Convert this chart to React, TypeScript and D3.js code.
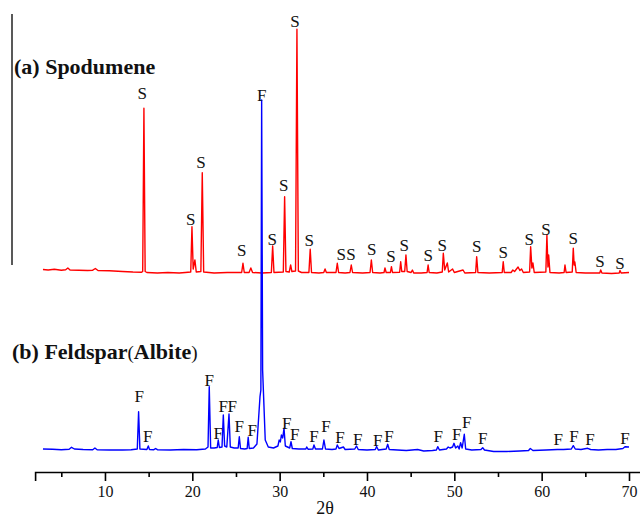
import React, { useEffect, useRef } from 'react';
import * as d3 from 'd3';

// XRD patterns, [2θ, counts] (arbitrary units)
const spodumene: [number, number][] = [
  [2.9, 35], [3.5, 30], [4.2, 38], [5.0, 28], [5.5, 32], [5.75, 50], [6.0, 30], [7.0, 28], [8.0, 25],
  [8.6, 28], [8.9, 45], [9.2, 25], [10.5, 22], [12.0, 15], [13.2, 10], [14.2, 8], [14.32, 15],
  [14.46, 1647], [14.6, 15], [14.8, 5], [16.0, 0], [17.2, 5], [18.5, 0], [19.2, 5], [19.82, 10],
  [19.96, 463], [20.1, 40], [20.3, 130], [20.45, 10], [20.98, 15], [21.14, 1003], [21.3, 10],
  [22.5, 0], [24.0, 5], [25.65, 5], [25.8, 97], [25.95, 5], [26.5, 5], [26.7, 50], [26.9, 5],
  [28.0, 0], [29.05, 5], [29.2, 270], [29.35, 5], [30.42, 10], [30.57, 763], [30.72, 15],
  [31.1, 10], [31.26, 80], [31.4, 15], [31.82, 20], [31.98, 2437], [32.14, 20], [32.5, 5],
  [33.35, 5], [33.5, 237], [33.65, 5], [34.5, 0], [35.05, 5], [35.2, 40], [35.35, 5], [36.45, 5],
  [36.6, 97], [36.75, 5], [37.5, 0], [38.05, 5], [38.2, 80], [38.35, 5], [39.5, 0], [40.35, 5],
  [40.5, 130], [40.65, 5], [41.5, 0], [41.95, 5], [42.06, 50], [42.2, 5], [42.68, 5], [42.8, 63],
  [42.92, 5], [43.74, 8], [43.86, 113], [43.98, 15], [44.32, 15], [44.46, 180], [44.6, 15],
  [45.05, 5], [45.2, 30], [45.35, 0], [46.2, 0], [46.88, 5], [47.0, 80], [47.12, 5], [48.0, 0],
  [48.62, 10], [48.74, 197], [48.9, 30], [49.2, 100], [49.35, 10], [49.8, 40], [50.0, 5],
  [51.0, 30], [51.2, 0], [52.44, 5], [52.56, 163], [52.7, 5], [54.0, 0], [55.48, 5], [55.6, 113],
  [55.72, 5], [56.5, 5], [56.7, 30], [56.9, 15], [57.3, 60], [57.5, 25], [57.7, 40], [57.9, 5],
  [58.62, 10], [58.74, 263], [58.88, 50], [59.0, 100], [59.15, 5], [60.48, 10], [60.6, 380],
  [60.72, 60], [60.8, 180], [60.95, 5], [62.0, 0], [62.57, 5], [62.67, 80], [62.8, 5], [63.5, 10],
  [63.62, 247], [63.72, 80], [63.8, 110], [63.95, 5], [65.0, 0], [66.65, 0], [66.76, 30],
  [66.9, 0], [68.0, -5], [68.88, 0], [68.97, 25], [69.1, 0], [70.0, 5],
];

const feldspar: [number, number][] = [
  [2.9, 10], [4.0, 8], [5.0, 3], [5.9, 8], [6.17, 27], [6.5, 10], [7.5, 5], [8.6, 3], [8.85, 20],
  [9.1, 3], [10.5, 0], [12.0, 0], [13.0, 3], [13.7, 10], [13.85, 383], [14.0, 10], [14.8, 5],
  [14.96, 40], [15.1, 5], [15.6, 3], [15.8, 15], [16.0, 3], [17.5, 0], [19.0, 5], [20.5, 3],
  [21.5, 10], [21.8, 30], [21.94, 633], [22.1, 20], [22.5, 20], [22.85, 25], [22.97, 100],
  [23.1, 25], [23.4, 30], [23.55, 350], [23.7, 40], [23.95, 30], [24.2, 360], [24.35, 30],
  [24.8, 20], [25.25, 20], [25.38, 133], [25.52, 15], [26.0, 10], [26.28, 15], [26.4, 127],
  [26.52, 15], [27.0, 20], [27.4, 60], [27.75, 533], [27.85, 600], [27.94, 3500], [28.05, 800],
  [28.2, 450], [28.35, 100], [28.7, 30], [29.3, 20], [29.8, 40], [29.95, 100], [30.08, 80],
  [30.2, 150], [30.35, 120], [30.5, 217], [30.65, 40], [31.15, 20], [31.3, 83], [31.45, 15],
  [32.2, 10], [33.0, 10], [33.1, 30], [33.25, 8], [33.8, 10], [33.93, 50], [34.1, 10], [34.9, 10],
  [35.07, 100], [35.25, 10], [36.0, 5], [36.45, 10], [36.6, 50], [36.8, 15], [37.3, 30], [37.5, 5],
  [38.6, 10], [38.8, 40], [39.0, 5], [40.0, 0], [40.95, 5], [41.1, 35], [41.3, 0], [42.2, 10],
  [42.37, 57], [42.55, 5], [43.5, 0], [44.5, -5], [45.8, 5], [46.5, -10], [47.5, -5], [47.95, 0],
  [48.1, 33], [48.3, 0], [49.1, 10], [49.3, 30], [49.5, 20], [49.8, 30], [49.96, 67], [50.15, 20],
  [50.4, 40], [50.55, 10], [50.72, 73], [50.9, 20], [51.14, 157], [51.3, 10], [52.0, 0],
  [53.05, 5], [53.25, 23], [53.45, 0], [54.5, -15], [56.0, -15], [57.5, -10], [58.5, -5],
  [58.7, 15], [59.0, -5], [60.5, 0], [61.8, 5], [62.5, 5], [63.4, 10], [63.62, 43], [63.85, 10],
  [64.5, 5], [65.27, 17], [65.6, 5], [66.5, 0], [67.5, 5], [68.5, 5], [69.3, 15], [69.54, 33],
  [70.0, 30],
];

// phase markers: [2θ, counts at text baseline]
const spodLabels: [number, number][] = [
  [14.27, 1742], [19.81, 482], [20.99, 1048], [25.65, 168], [29.15, 282], [30.46, 825],
  [31.75, 2458], [33.39, 275], [37.05, 135], [38.18, 135], [40.54, 182], [42.75, 115],
  [44.27, 225], [47.02, 125], [48.62, 225], [52.56, 208], [55.6, 148], [58.58, 282],
  [60.49, 382], [63.62, 292], [66.68, 65], [68.97, 42],
];

const feldLabels: [number, number][] = [
  [13.92, 478], [14.89, 78], [21.94, 638], [22.97, 112], [23.54, 378], [24.57, 378],
  [25.38, 178], [26.86, 145], [27.94, 3495], [30.8, 212], [31.72, 105], [33.93, 78],
  [35.3, 178], [36.91, 72], [38.93, 52], [41.22, 45], [42.52, 78], [48.16, 78], [50.27, 105],
  [51.41, 218], [53.25, 62], [61.9, 52], [63.7, 85], [65.53, 52], [69.54, 62],
];

const SPOD_OFFSET = 1770; // vertical shift of pattern (a)
const xTicks = [5, 10, 15, 20, 25, 30, 35, 40, 45, 50, 55, 60, 65, 70];

const width = 640;
const height = 519;
const axisY = 472;
const serif = '"Liberation Serif", "Times New Roman", serif';

export default function App() {
  const axisRef = useRef<SVGGElement>(null);

  const x = d3.scaleLinear().domain([2, 71.5]).range([35.1, 642.1]);
  const y = d3.scaleLinear().domain([0, 4500]).range([450, 0]);

  const line = d3.line<[number, number]>()
    .x(d => x(d[0]))
    .y(d => y(d[1]));

  useEffect(() => {
    const g = d3.select(axisRef.current);
    g.selectAll('*').remove();
    const axis = d3.axisBottom(x)
      .tickValues(xTicks)
      .tickSizeOuter(0)
      .tickSize(9)
      .tickFormat(d => (+d % 10 === 0 ? String(d) : ''));
    g.call(axis);
    g.select('.domain').attr('stroke', '#000').attr('stroke-width', 1.6);
    g.selectAll('.tick line')
      .attr('stroke', '#000')
      .attr('stroke-width', 1.6)
      .attr('y2', (d: any) => (d % 10 === 0 ? 9 : 5));
    g.selectAll('.tick text')
      .attr('fill', '#111')
      .attr('font-family', serif)
      .attr('font-size', 16)
      .attr('y', 14);
  }, []);

  return (
    <svg width={width} height={height} style={{ position: 'absolute', left: 0, top: 0, background: '#fff' }}>
      <line x1={12} x2={12} y1={14} y2={265} stroke="#222" strokeWidth={1.5} />

      <path
        d={line(spodumene.map(d => [d[0], d[1] + SPOD_OFFSET]) as [number, number][]) || ''}
        fill="none" stroke="#ff0000" strokeWidth={1.4} strokeLinejoin="round"
      />
      <path
        d={line(feldspar) || ''}
        fill="none" stroke="#0000ff" strokeWidth={1.4} strokeLinejoin="round"
      />

      <g fontFamily={serif} fontSize={17} fill="#111" textAnchor="middle">
        {spodLabels.map((d, i) => (
          <text key={'s' + i} x={x(d[0])} y={y(d[1] + SPOD_OFFSET)}>S</text>
        ))}
        {feldLabels.map((d, i) => (
          <text key={'f' + i} x={x(d[0])} y={y(d[1])}>F</text>
        ))}
      </g>

      <text x={14} y={74} fontFamily={serif} fontWeight="bold" fontSize={22} fill="#111">(a) Spodumene</text>
      <text x={12} y={359} fontFamily={serif} fontWeight="bold" fontSize={22} fill="#111">
        (b) Feldspar<tspan fontWeight="normal" fontSize={19}>(</tspan>Albite<tspan fontWeight="normal" fontSize={19}>)</tspan>
      </text>

      <g ref={axisRef} transform={`translate(0,${axisY})`} />
      <text x={325} y={514} fontFamily={serif} fontSize={18} fill="#111" textAnchor="middle">2θ</text>
    </svg>
  );
}
